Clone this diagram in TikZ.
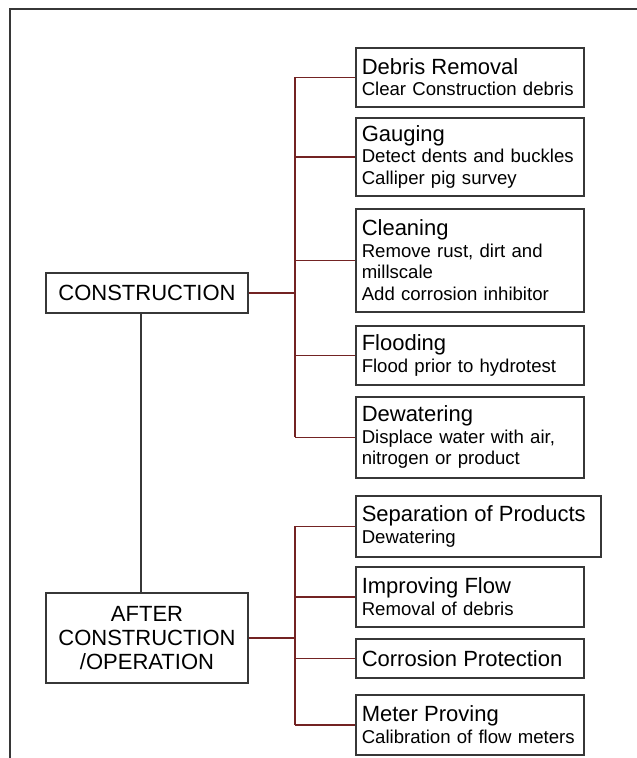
\documentclass[tikz,border=0pt]{standalone}
\usepackage{fontspec}
\setmainfont{Liberation Sans}
\usetikzlibrary{positioning}

\definecolor{branchred}{RGB}{115,35,35}
\definecolor{boxgray}{RGB}{55,55,55}
\newcommand{\titlefont}{\fontsize{22}{24}\selectfont}
\newcommand{\subfont}{\fontsize{18.6}{21.5}\selectfont}
\hyphenpenalty=10000
\exhyphenpenalty=10000

\begin{document}
\begin{tikzpicture}[x=1pt,y=-1pt,
  stage/.style={draw=boxgray, line width=1.5pt, minimum width=202pt, align=center, font=\titlefont, inner sep=0pt},
  task/.style={draw=boxgray, line width=1.5pt, anchor=north west, text width=216pt, align=left, inner xsep=6pt, inner ysep=0pt, font=\subfont},
  branch/.style={draw=branchred, line width=1.5pt},
  link/.style={draw=boxgray, line width=1.5pt}]
\useasboundingbox (0,0) rectangle (637,758);

% Frame
\draw[boxgray, line width=1.5pt] (10,758) -- (10,9) -- (637,9);

% Stages
\node[stage, minimum height=40pt] (constr) at (147,293) {CONSTRUCTION};
\node[stage, minimum height=90pt] (after) at (147,638) {AFTER\\CONSTRUCTION\\/OPERATION};

% Construction tasks
\node[task, minimum height=59pt] (debris) at (355,47) {{\titlefont Debris Removal}\\Clear Construction debris};
\node[task, minimum height=78pt] (gauge) at (355,117) {{\titlefont Gauging}\\Detect dents and buckles\\Calliper pig survey};
\node[task, minimum height=103pt] (clean) at (355,208) {{\titlefont Cleaning}\\Remove rust, dirt and\\millscale\\Add corrosion inhibitor};
\node[task, minimum height=59pt] (flood) at (355,325) {{\titlefont Flooding}\\Flood prior to hydrotest};
\node[task, minimum height=81pt] (dewater) at (355,396) {{\titlefont Dewatering}\\Displace water with air,\\nitrogen or product};

% Operation tasks
\node[task, minimum height=61pt, text width=233pt] (separate) at (355,495) {{\titlefont Separation of Products}\\Dewatering};
\node[task, minimum height=60pt] (flow) at (355,566) {{\titlefont Improving Flow}\\Removal of debris};
\node[task, minimum height=39pt] (protect) at (355,638) {{\titlefont Corrosion Protection}};
\node[task, minimum height=60pt] (meter) at (355,694) {{\titlefont Meter Proving}\\Calibration of flow meters};

% Connectors
\coordinate (trunk) at (295,0);
\draw[link] ([xshift=-6pt]constr.south) -- ([xshift=-6pt]after.north);
\draw[branch] (constr.east) -- (constr.east -| trunk);
\draw[branch] (trunk |- debris.west) -- (trunk |- dewater.west);
\foreach \t in {debris,gauge,clean,flood,dewater}
  \draw[branch] (trunk |- \t.west) -- (\t.west);
\draw[branch] (after.east) -- (after.east -| trunk);
\draw[branch] (trunk |- separate.west) -- (trunk |- meter.west);
\foreach \t in {separate,flow,protect,meter}
  \draw[branch] (trunk |- \t.west) -- (\t.west);
\end{tikzpicture}
\end{document}
